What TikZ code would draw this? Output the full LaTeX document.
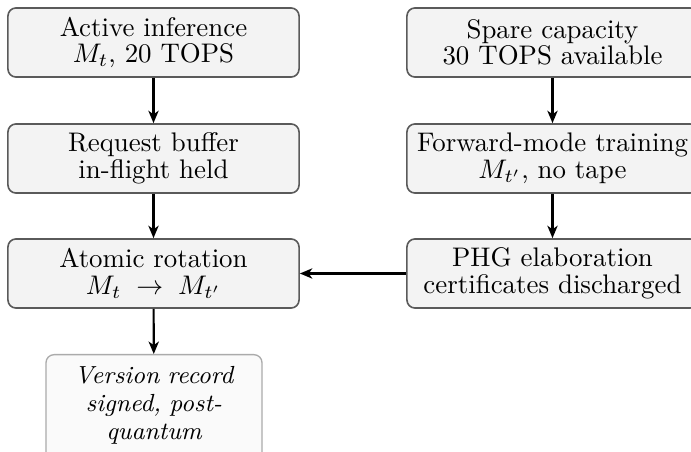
\documentclass[tikz,border=0pt]{standalone}
\usetikzlibrary{arrows.meta}
\definecolor{boxfill}{HTML}{F3F3F3}
\definecolor{boxdraw}{HTML}{5A5A5A}
\definecolor{notefill}{HTML}{FAFAFA}
\definecolor{notedraw}{HTML}{ABABAB}
\begin{document}
\begin{tikzpicture}[x=0.372pt,y=-0.372pt,
  stagebox/.style={draw=boxdraw, fill=boxfill, line width=0.6pt, rounded corners=3pt,
    minimum width=108.3pt, minimum height=25.7pt, align=center, inner sep=3pt,
    font=\fontsize{10pt}{9.9pt}\selectfont},
  notebox/.style={draw=notedraw, fill=notefill, line width=0.5pt, rounded corners=3pt,
    text width=73.7pt, align=center, inner sep=3.33pt, inner ysep=4.2pt,
    font=\fontsize{9.2pt}{10.4pt}\selectfont\itshape},
  flow/.style={-{Stealth[length=4.6pt,width=3.8pt,inset=1.3pt]}, line width=0.8pt}]
\useasboundingbox (0,0) rectangle (691,452);
\clip (0,0) rectangle (691,452);
\node[stagebox] (active) at (153.5,42.5) {Active inference\\$M_t$, 20 TOPS};
\node[stagebox] (buffer) at (153.5,158.5) {Request buffer\\in-flight held};
\node[stagebox] (rotate) at (153.5,273.5) {Atomic rotation\\$M_t \;\rightarrow\; M_{t'}$};
\node[notebox, anchor=north] (record) at (154,354) {Version record signed, post-quantum\\\mbox{}};
\node[stagebox] (spare) at (552.5,42.5) {Spare capacity\\30 TOPS available};
\node[stagebox] (train) at (552.5,158.5) {Forward-mode training\\$M_{t'}$, no tape};
\node[stagebox] (phg) at (552.5,273.5) {PHG elaboration\\certificates discharged};
\draw[flow] (active) -- (buffer);
\draw[flow] (buffer) -- (rotate);
\draw[flow] (rotate) -- (record);
\draw[flow] (spare) -- (train);
\draw[flow] (train) -- (phg);
\draw[flow] (phg) -- (rotate);
\end{tikzpicture}
\end{document}
